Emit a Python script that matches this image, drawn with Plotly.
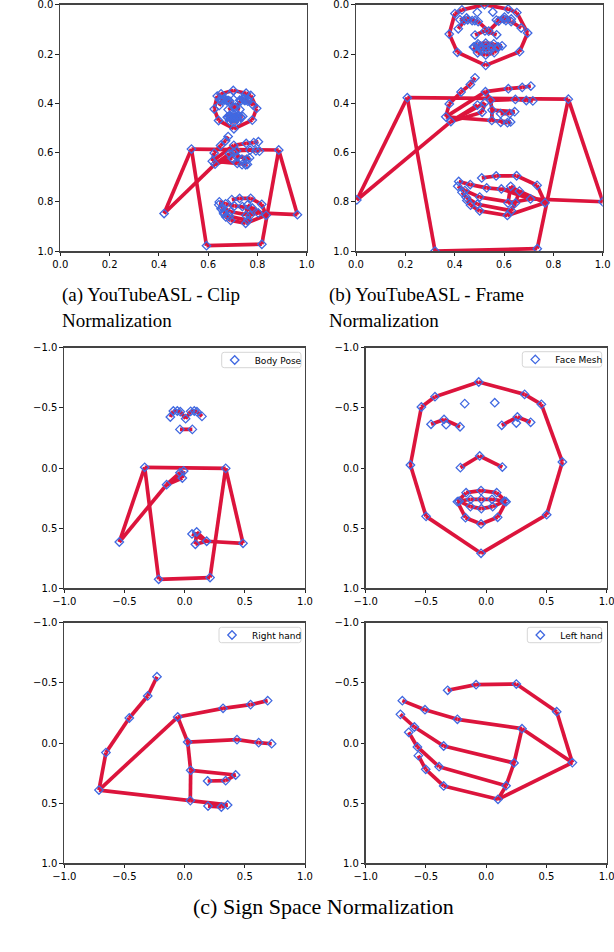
import plotly.graph_objects as go

W, H = 614, 952

# Body pose (MediaPipe order, upper body only)
pose_x = [0.008, -0.036, -0.061, -0.094, 0.050, 0.080, 0.102, -0.119, 0.144, -0.039, 0.064,
          -0.332, 0.341, -0.543, 0.485, -0.150, 0.183, -0.019, 0.089, -0.008, 0.100, -0.039, 0.061,
          -0.216, 0.211]
pose_y = [-0.410, -0.468, -0.474, -0.474, -0.471, -0.474, -0.468, -0.424, -0.429, -0.321, -0.321,
          -0.006, 0.003, 0.615, 0.626, 0.139, 0.609, 0.083, 0.634, 0.025, 0.532, 0.039, 0.548,
          0.925, 0.911]
pose_edges = [(0, 1), (1, 2), (2, 3), (3, 7), (0, 4), (4, 5), (5, 6), (6, 8), (9, 10), (11, 12),
              (11, 13), (13, 15), (15, 17), (15, 19), (15, 21), (17, 19), (12, 14), (14, 16),
              (16, 18), (16, 20), (16, 22), (18, 20), (11, 23), (12, 24), (23, 24)]

# Face mesh subset
face_x = [-0.062, 0.319, 0.458, 0.632, 0.502, -0.043, -0.499, -0.629, -0.538, -0.425,
          -0.458, -0.350, -0.217, -0.333,
          0.129, 0.259, 0.369, 0.250,
          -0.178, 0.071,
          -0.214, -0.054, 0.134,
          -0.239, 0.165, -0.225, 0.152,
          -0.167, -0.043, 0.087,
          -0.129, -0.040, 0.048,
          -0.131, -0.040, 0.054,
          -0.172, -0.043, 0.095]
face_y = [-0.715, -0.612, -0.529, -0.050, 0.388, 0.709, 0.402, -0.025, -0.507, -0.593,
          -0.363, -0.404, -0.343, -0.360,
          -0.355, -0.424, -0.380, -0.374,
          -0.535, -0.543,
          -0.003, -0.100, -0.008,
          0.280, 0.280, 0.276, 0.276,
          0.205, 0.188, 0.205,
          0.260, 0.260, 0.260,
          0.321, 0.338, 0.321,
          0.413, 0.465, 0.410]
face_edges = [(0, 1), (1, 2), (2, 3), (3, 4), (4, 5), (5, 6), (6, 7), (7, 8), (8, 9), (9, 0),
              (10, 11), (11, 12), (14, 15), (15, 16), (20, 21), (21, 22),
              (23, 27), (27, 28), (28, 29), (29, 24),
              (25, 30), (30, 31), (31, 32), (32, 26),
              (25, 33), (33, 34), (34, 35), (35, 26),
              (23, 36), (36, 37), (37, 38), (38, 24), (23, 25), (24, 26)]

# Hands (21 MediaPipe landmarks each)
rh_x = [-0.712, -0.654, -0.460, -0.307, -0.230, -0.058, 0.319, 0.548, 0.690, 0.025, 0.435,
        0.615, 0.723, 0.050, 0.424, 0.341, 0.191, 0.047, 0.357, 0.305, 0.194]
rh_y = [0.391, 0.080, -0.208, -0.391, -0.551, -0.216, -0.288, -0.319, -0.352, -0.008, -0.028,
        -0.003, 0.006, 0.227, 0.266, 0.313, 0.316, 0.479, 0.515, 0.532, 0.524]
lh_x = [0.715, 0.585, 0.250, -0.084, -0.320, 0.297, -0.239, -0.508, -0.696, 0.231, -0.353,
        -0.596, -0.712, 0.165, -0.391, -0.571, -0.643, 0.098, -0.353, -0.502, -0.563]
lh_y = [0.163, -0.260, -0.490, -0.485, -0.438, -0.119, -0.197, -0.277, -0.352, 0.166, 0.025,
        -0.133, -0.238, 0.355, 0.197, 0.033, -0.089, 0.468, 0.357, 0.219, 0.105]
hand_edges = [(0, 1), (1, 2), (2, 3), (3, 4), (0, 5), (5, 6), (6, 7), (7, 8), (5, 9), (9, 10),
              (10, 11), (11, 12), (9, 13), (13, 14), (14, 15), (15, 16), (13, 17), (0, 17),
              (17, 18), (18, 19), (19, 20)]

# placement of each part inside the video frame (offset_x, scale_x, offset_y, scale_y)
frame_place = {
    "pose": (0.530, 0.970, 0.381, 0.668),
    "face": (0.5365, 0.252, 0.1235, 0.1728),
    "rh": (0.539, 0.246, 0.389, 0.168),
    "lh": (0.589, 0.248, 0.776, 0.168),
}
# clip-level normalisation of frame coordinates
clip_norm = (0.4194, 0.5426, 0.348, 0.630)

parts = {
    "pose": (pose_x, pose_y, pose_edges, "Body Pose"),
    "face": (face_x, face_y, face_edges, "Face Mesh"),
    "rh": (rh_x, rh_y, hand_edges, "Right hand"),
    "lh": (lh_x, lh_y, hand_edges, "Left hand"),
}

caption_a = ["(a) YouTubeASL - Clip", "Normalization"]
caption_b = ["(b) YouTubeASL - Frame", "Normalization"]
caption_c = "(c) Sign Space Normalization"

LINE_COLOR = "#DC143C"
MARK_COLOR = "#4169E1"


def to_frame(key):
    xs, ys, _, _ = parts[key]
    ox, sx, oy, sy = frame_place[key]
    return [ox + sx * v for v in xs], [oy + sy * v for v in ys]


def to_clip(key):
    fx, fy = to_frame(key)
    ox, sx, oy, sy = clip_norm
    return [ox + sx * v for v in fx], [oy + sy * v for v in fy]


def edge_lines(xs, ys, edges):
    lx, ly = [], []
    for a, b in edges:
        lx += [xs[a], xs[b], None]
        ly += [ys[a], ys[b], None]
    return lx, ly


fig = go.Figure()


def add_panel(coords, axid, legend=None, name=None):
    xa = "x" if axid == 1 else f"x{axid}"
    ya = "y" if axid == 1 else f"y{axid}"
    for xs, ys, edges in coords:
        lx, ly = edge_lines(xs, ys, edges)
        fig.add_trace(go.Scatter(x=lx, y=ly, mode="lines", xaxis=xa, yaxis=ya,
                                 line=dict(color=LINE_COLOR, width=3.7),
                                 showlegend=False, hoverinfo="skip"))
    for i, (xs, ys, edges) in enumerate(coords):
        fig.add_trace(go.Scatter(x=xs, y=ys, mode="markers", xaxis=xa, yaxis=ya,
                                 marker=dict(symbol="diamond-open", size=6.5, color=MARK_COLOR,
                                             line=dict(width=1.3, color=MARK_COLOR)),
                                 name=name if name else "",
                                 showlegend=bool(legend) and i == 0,
                                 legend=legend if legend else "legend"))


order = ["pose", "face", "rh", "lh"]
add_panel([(*to_clip(k), parts[k][2]) for k in order], 1)
add_panel([(*to_frame(k), parts[k][2]) for k in order], 2)
for idx, k in enumerate(order):
    xs, ys, edges, nm = parts[k]
    add_panel([(xs, ys, edges)], 3 + idx, legend="legend" if idx == 0 else f"legend{idx + 1}", name=nm)

# panel boxes in pixels (left, right, top, bottom)
boxes = [
    (60.3, 306.7, 4.7, 251.3),
    (356.0, 602.7, 4.7, 251.3),
    (64.3, 305.0, 347.7, 588.3),
    (365.7, 606.7, 347.7, 588.3),
    (64.3, 305.0, 622.7, 863.3),
    (365.7, 606.7, 622.7, 863.3),
]

tick_font = dict(family="DejaVu Sans", size=10, color="#000")
ticks01 = [0, 0.2, 0.4, 0.6, 0.8, 1.0]
ticks01_txt = ["0.0", "0.2", "0.4", "0.6", "0.8", "1.0"]
ticks11 = [-1.0, -0.5, 0.0, 0.5, 1.0]
ticks11_txt = ["\u22121.0", "\u22120.5", "0.0", "0.5", "1.0"]

layout = dict(template="none", width=W, height=H, margin=dict(l=0, r=0, t=0, b=0, pad=0),
              autosize=False, paper_bgcolor="white", plot_bgcolor="white", showlegend=True)

for i, (l, r, t, b) in enumerate(boxes):
    n = i + 1
    xk = "xaxis" if n == 1 else f"xaxis{n}"
    yk = "yaxis" if n == 1 else f"yaxis{n}"
    if n <= 2:
        tv, tt, xr, yr = ticks01, ticks01_txt, [0, 1], [1, 0]
    else:
        tv, tt, xr, yr = ticks11, ticks11_txt, [-1, 1], [1, -1]
    common = dict(showgrid=False, zeroline=False, showline=True, mirror=True, automargin=False,
                  ticklabeloverflow="allow",
                  linecolor="#444", linewidth=1.4, ticks="outside", ticklen=3.5,
                  tickwidth=1, tickcolor="#222", tickfont=tick_font,
                  tickvals=tv, ticktext=tt, fixedrange=True)
    layout[xk] = dict(common, domain=[l / W, r / W], range=xr,
                      anchor="y" if n == 1 else f"y{n}")
    layout[yk] = dict(common, domain=[1 - b / H, 1 - t / H], range=yr,
                      anchor="x" if n == 1 else f"x{n}")

# legend frames in pixels (left, right, top, bottom)
legend_boxes = [(221.7, 301.0, 352.3, 367.7), (522.3, 601.7, 351.7, 367.1),
                (219.0, 301.0, 627.3, 642.7), (527.3, 601.7, 627.3, 642.7)]
shapes = []
rad = 2.5
for i, (L, R, T, B) in enumerate(legend_boxes):
    key = "legend" if i == 0 else f"legend{i + 1}"
    layout[key] = dict(x=(L - 7) / W, y=1 - ((T + B) / 2) / H, xanchor="left", yanchor="middle",
                       bgcolor="rgba(0,0,0,0)", borderwidth=0,
                       font=dict(family="DejaVu Sans", size=9, color="#000"),
                       itemwidth=30, tracegroupgap=0)
    x0, x1 = L / W, R / W
    y0, y1 = 1 - B / H, 1 - T / H
    rx, ry = rad / W, rad / H
    path = (f"M {x0 + rx},{y1} L {x1 - rx},{y1} Q {x1},{y1} {x1},{y1 - ry} "
            f"L {x1},{y0 + ry} Q {x1},{y0} {x1 - rx},{y0} L {x0 + rx},{y0} "
            f"Q {x0},{y0} {x0},{y0 + ry} L {x0},{y1 - ry} Q {x0},{y1} {x0 + rx},{y1} Z")
    shapes.append(dict(type="path", xref="paper", yref="paper", path=path,
                       line=dict(color="#d6d6d6", width=1), fillcolor="rgba(255,255,255,0.8)",
                       layer="above"))

fig.update_layout(**layout)
fig.update_layout(shapes=shapes)

ann = []
cap_font = dict(family="Liberation Serif", size=19, color="#000")
for j, txt in enumerate(caption_a):
    ann.append(dict(x=60 / W, y=1 - (295 + 25 * j) / H, text=txt, font=cap_font))
for j, txt in enumerate(caption_b):
    ann.append(dict(x=327 / W, y=1 - (295 + 25 * j) / H, text=txt, font=cap_font))
ann.append(dict(x=191 / W, y=1 - 906 / H, text=caption_c,
                font=dict(family="Liberation Serif", size=22, color="#000")))
for a in ann:
    a.update(xref="paper", yref="paper", xanchor="left", yanchor="middle", showarrow=False)
fig.update_layout(annotations=ann)

fig.write_html("out.html", config={"displayModeBar": False, "staticPlot": True},
               post_script="document.body.style.margin='0';document.body.style.padding='0';")
